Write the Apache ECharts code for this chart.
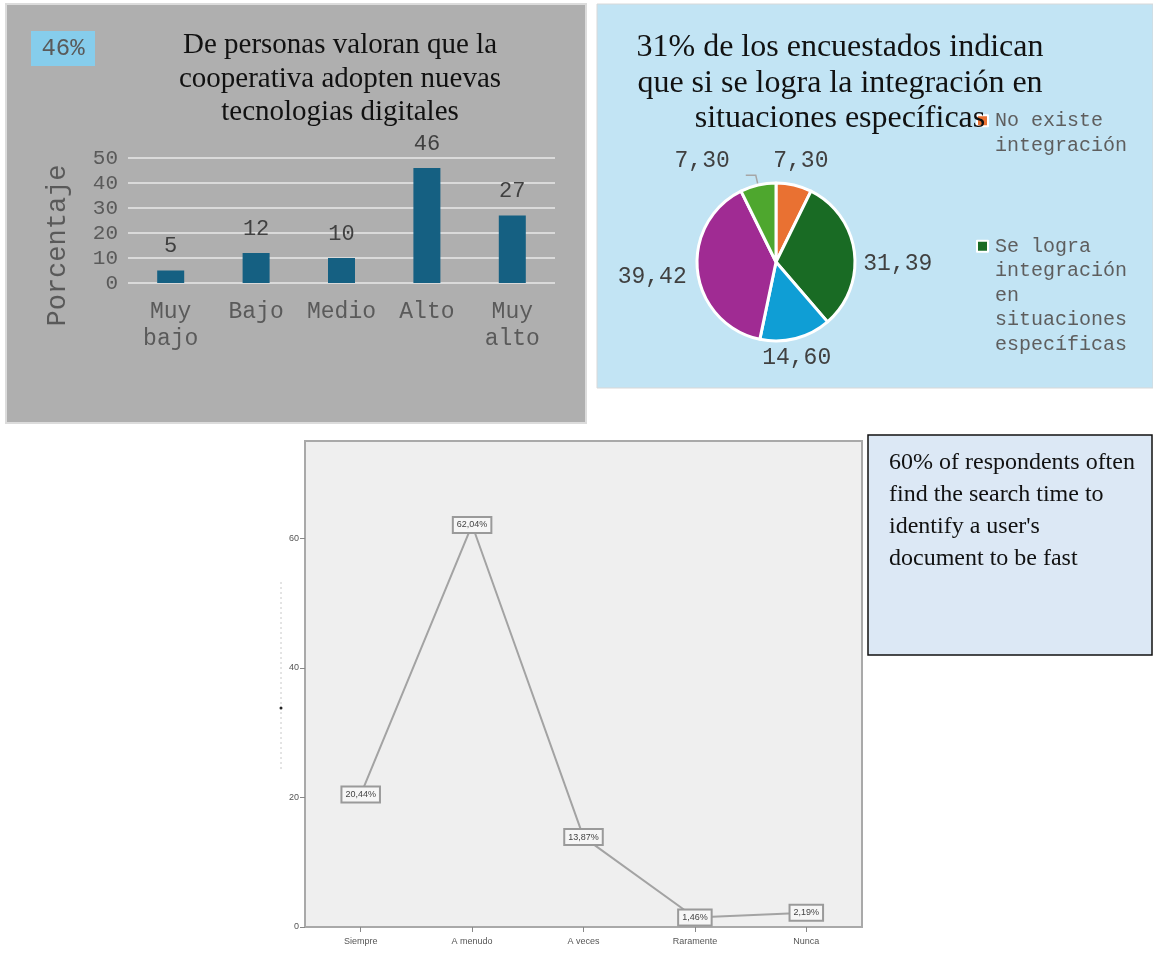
<!DOCTYPE html>
<html><head><meta charset="utf-8">
<script src="https://cdn.jsdelivr.net/npm/echarts@6/dist/echarts.min.js"></script>
<style>html,body{margin:0;padding:0;background:#fff}#c{width:1153px;height:953px}</style>
</head><body><div id="c"></div>
<script>
// ---- data: bar chart (top left)
const barCategories = ['Muy\nbajo', 'Bajo', 'Medio', 'Alto', 'Muy\nalto'];
const barValues = [5, 12, 10, 46, 27];
const barTitle = 'De personas valoran que la\ncooperativa adopten nuevas\ntecnologias digitales';
const barBadge = '46%';
const barAxisName = 'Porcentaje';
// ---- data: pie chart (top right)
const pieNames = ['No existe integración', 'Se logra integración en situaciones específicas', 'Integración parcial', 'Integración total', 'No sabe'];
const pieValues = [7.30, 31.39, 14.60, 39.42, 7.30];
const pieColors = ['#e97132', '#196b24', '#0f9ed5', '#a02b93', '#4ea72e'];
const pieTitle = '31% de los encuestados indican\nque si se logra la integración en\nsituaciones específicas';
const legendLines = [['No existe', 'integración'], ['Se logra', 'integración', 'en', 'situaciones', 'específicas']];
// ---- data: line chart (bottom)
const lineCategories = ['Siempre', 'A menudo', 'A veces', 'Raramente', 'Nunca'];
const lineValues = [20.44, 62.04, 13.87, 1.46, 2.19];
const noteText = "60% of respondents often\nfind the search time to\nidentify a user's\ndocument to be fast";

const mono = '"Liberation Mono", "DejaVu Sans Mono", monospace';
const serif = '"Liberation Serif", "DejaVu Serif", serif';
const sans = '"Liberation Sans", Arial, sans-serif';
const comma = (v) => v.toFixed(2).replace('.', ',');
// legend text: leading blank lines so the first line sits beside the marker
const legendText = (lines) => '\n'.repeat(lines.length - 1) + lines.join('\n');
// label nudges to mimic the original best-fit placement of the pie labels
const pieLabelShift = [[-38, -14], [-16, 13], [-51, 10], [14, 4], [-11, -14]];

const chart = echarts.init(document.getElementById('c'));
chart.setOption({
  backgroundColor: '#ffffff',
  animation: false,
  graphic: [
    { type: 'rect', z: -100, shape: { x: 6, y: 4, width: 580, height: 419 }, style: { fill: '#afafaf', stroke: '#dcdcdc', lineWidth: 2 } },
    { type: 'rect', z: -99, shape: { x: 31, y: 31, width: 64, height: 35 }, style: { fill: '#86cdec' } },
    { type: 'text', z: -98, style: { x: 63, y: 49, text: barBadge, font: '24px ' + mono, fill: '#5a5a5a', textAlign: 'center', textVerticalAlign: 'middle' } },
    { type: 'rect', z: -100, shape: { x: 597, y: 4, width: 556, height: 384 }, style: { fill: '#c2e4f4', stroke: '#d8d8d8', lineWidth: 1 } },
    { type: 'rect', z: -100, shape: { x: 868, y: 435, width: 284, height: 220 }, style: { fill: '#dce8f5', stroke: '#111', lineWidth: 1.5 } },
    { type: 'text', z: -98, style: { x: 889, y: 447, text: noteText, font: '24px ' + serif, fill: '#111', lineHeight: 32 } },
    { type: 'line', z: -98, shape: { x1: 281, y1: 582, x2: 281, y2: 772 }, style: { stroke: '#c8c8c8', lineWidth: 1, lineDash: [2, 3] } },
    { type: 'circle', z: -98, shape: { cx: 281, cy: 708, r: 1.5 }, style: { fill: '#222' } }
  ],
  title: [
    { text: barTitle, left: 335, top: 24, textAlign: 'center', textStyle: { fontFamily: serif, fontSize: 29, fontWeight: 'normal', color: '#111', lineHeight: 33.5 } },
    { text: pieTitle, left: 835, top: 25, textAlign: 'center', textStyle: { fontFamily: serif, fontSize: 32, fontWeight: 'normal', color: '#111', lineHeight: 35.5 } }
  ],
  legend: [
    { left: 976, top: 84, padding: 0, orient: 'vertical', data: [pieNames[0]], icon: 'rect', itemWidth: 11, itemHeight: 11,
      itemStyle: { borderColor: '#fff', borderWidth: 2 },
      formatter: () => legendText(legendLines[0]),
      textStyle: { fontFamily: mono, fontSize: 20, color: '#5e5e5e', lineHeight: 24.5, padding: [0, 0, 0, 2] } },
    { left: 976, top: 136, padding: 0, orient: 'vertical', data: [pieNames[1]], icon: 'rect', itemWidth: 11, itemHeight: 11,
      itemStyle: { borderColor: '#fff', borderWidth: 2 },
      formatter: () => legendText(legendLines[1]),
      textStyle: { fontFamily: mono, fontSize: 20, color: '#5e5e5e', lineHeight: 24.5, padding: [0, 0, 0, 2] } }
  ],
  grid: [
    { left: 128, top: 158, width: 427, height: 125 },
    { left: 305, top: 441, width: 557, height: 486, show: true, backgroundColor: '#efefef', borderColor: '#a9a9a9', borderWidth: 2 }
  ],
  xAxis: [
    { gridIndex: 0, type: 'category', data: barCategories, axisLine: { show: false }, axisTick: { show: false },
      axisLabel: { interval: 0, fontFamily: mono, fontSize: 23, color: '#5a5a5a', margin: 15, lineHeight: 27 } },
    { gridIndex: 1, type: 'category', data: lineCategories, axisLine: { show: false },
      axisTick: { show: true, alignWithLabel: true, length: 5, lineStyle: { color: '#888' } },
      axisLabel: { interval: 0, fontFamily: sans, fontSize: 9, color: '#555', margin: 10 } }
  ],
  yAxis: [
    { gridIndex: 0, type: 'value', min: 0, max: 50, interval: 10,
      name: barAxisName, nameLocation: 'middle', nameGap: 57, nameRotate: 90,
      nameTextStyle: { fontFamily: mono, fontSize: 27, color: '#595959', padding: [0, 50, 0, 0] },
      axisLine: { show: false }, axisTick: { show: false },
      axisLabel: { fontFamily: mono, fontSize: 21, color: '#5a5a5a', margin: 10 },
      splitLine: { lineStyle: { color: '#dadada', width: 2 } } },
    { gridIndex: 1, type: 'value', min: 0, max: 75, interval: 20,
      axisLine: { show: false }, axisTick: { show: true, length: 5, lineStyle: { color: '#888' } },
      axisLabel: { fontFamily: sans, fontSize: 9, color: '#555', margin: 6, showMaxLabel: false },
      splitLine: { show: false } }
  ],
  series: [
    { type: 'bar', xAxisIndex: 0, yAxisIndex: 0, data: barValues, barWidth: 27,
      itemStyle: { color: '#156082' },
      label: { show: true, position: 'top', distance: 13, fontFamily: mono, fontSize: 22, color: '#404040' } },
    { type: 'pie', center: [776, 262], radius: 79, startAngle: 90, clockwise: true, avoidLabelOverlap: false,
      data: pieNames.map((n, i) => ({ name: n, value: pieValues[i], itemStyle: { color: pieColors[i] },
        labelLine: { show: i === 4 } })),
      itemStyle: { borderColor: '#fff', borderWidth: 3 },
      label: { show: true, position: 'outside', formatter: (p) => comma(p.value), fontFamily: mono, fontSize: 23, color: '#404040' },
      labelLine: { length: 10, length2: 10, lineStyle: { color: '#a6a6a6', width: 1.5 } },
      labelLayout: (p) => ({ dx: pieLabelShift[p.dataIndex][0], dy: pieLabelShift[p.dataIndex][1] }) },
    { type: 'line', xAxisIndex: 1, yAxisIndex: 1, data: lineValues, symbol: 'rect', symbolSize: 1,
      lineStyle: { color: '#a3a3a3', width: 2 }, itemStyle: { color: '#a3a3a3' },
      label: { show: true, position: 'inside', formatter: (p) => comma(p.value) + '%', fontFamily: sans, fontSize: 9, color: '#444',
        backgroundColor: '#f6f6f6', borderColor: '#9a9a9a', borderWidth: 2, padding: [3, 3, 2, 3] } }
  ]
});
</script></body></html>
